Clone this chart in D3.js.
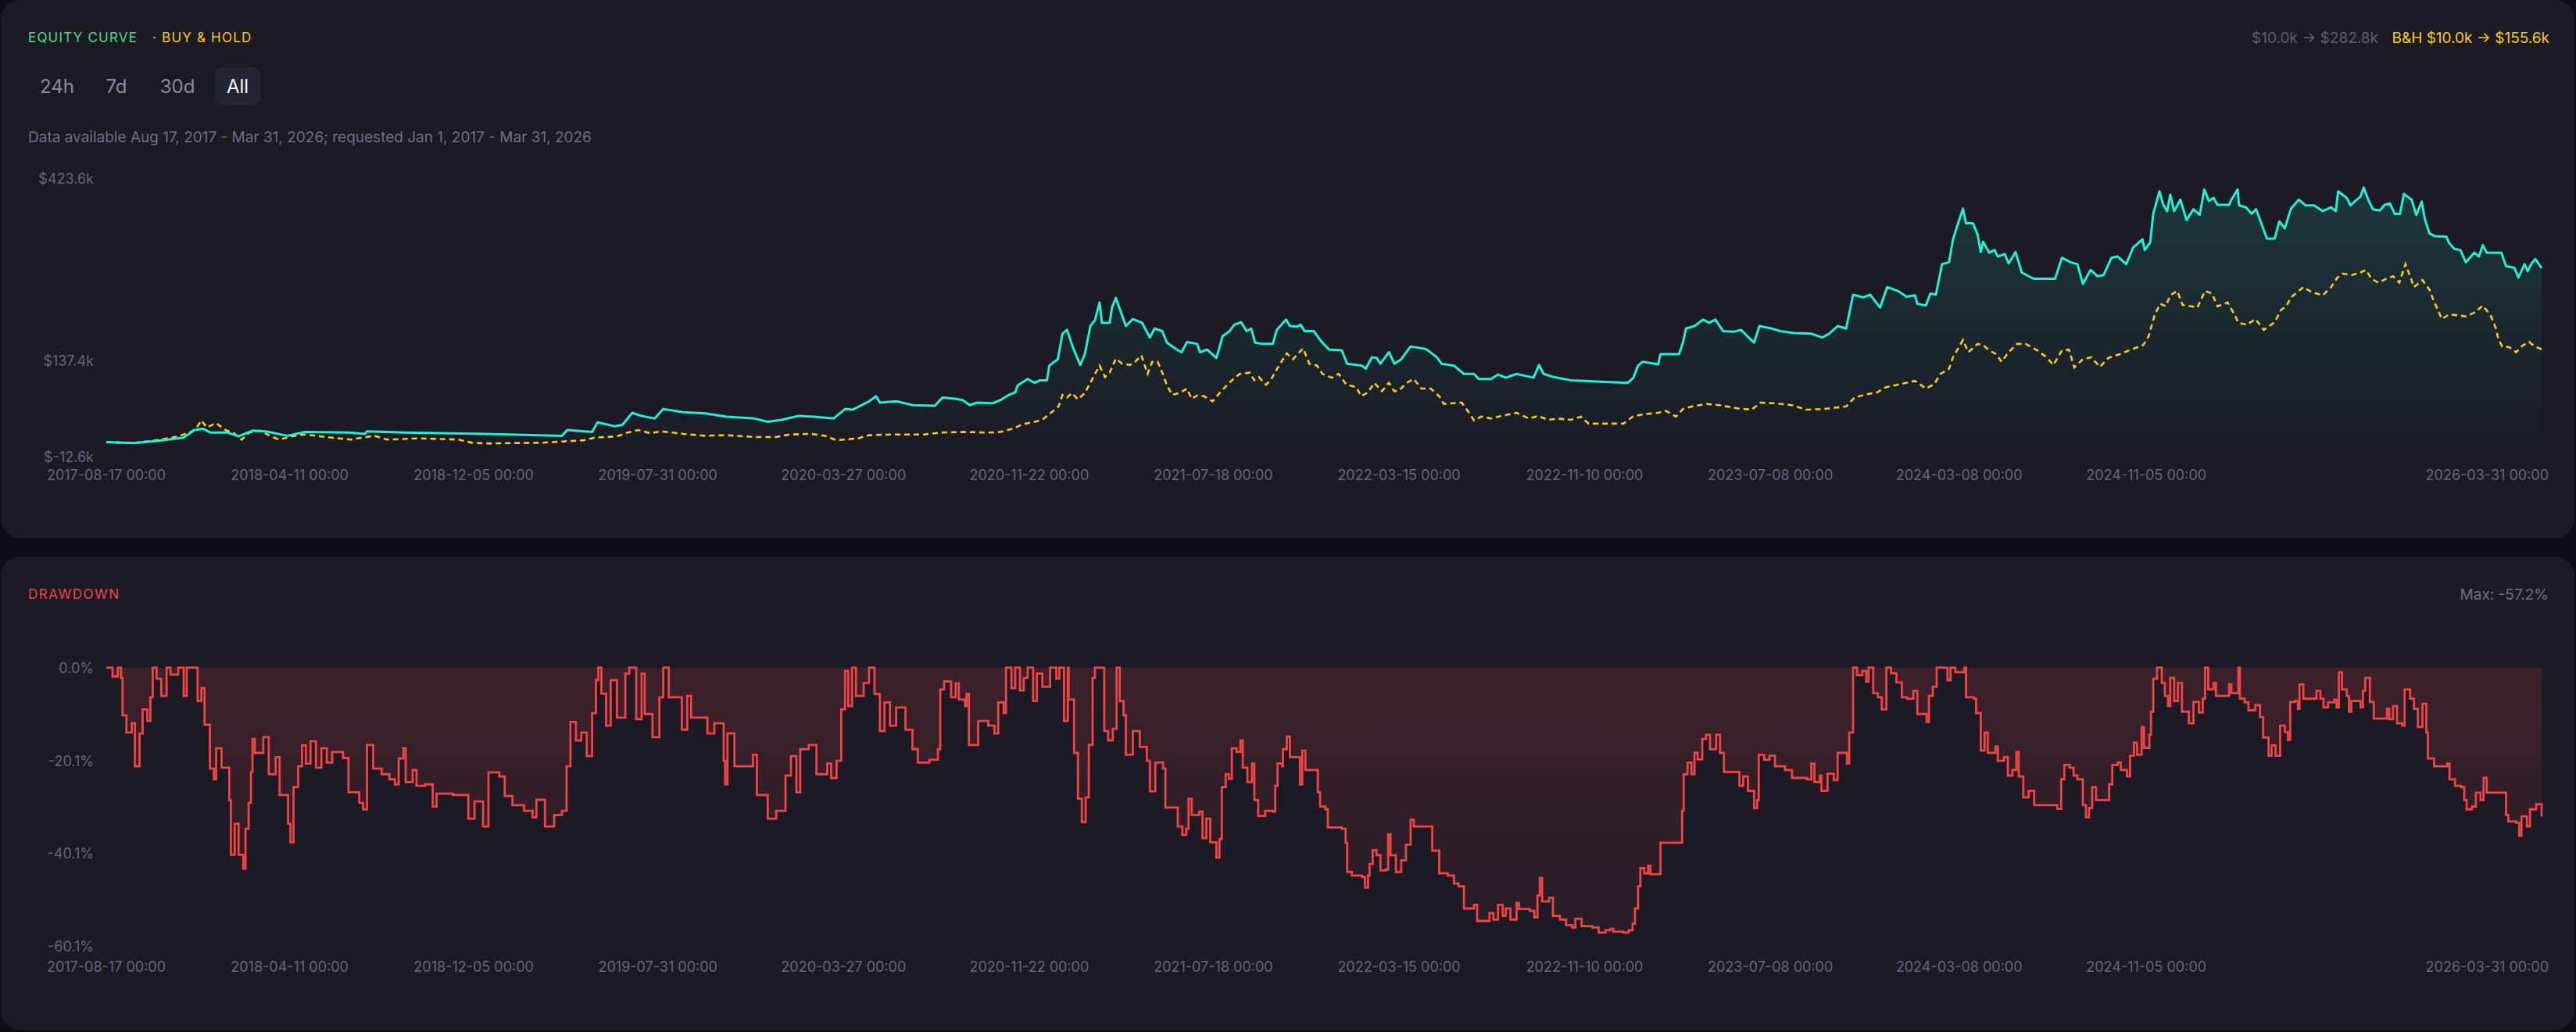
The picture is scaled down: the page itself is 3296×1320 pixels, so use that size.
<!DOCTYPE html>
<html>
<head>
<meta charset="utf-8">
<script src="https://cdn.jsdelivr.net/npm/d3@7"></script>
<style>
  html, body { margin: 0; padding: 0; background: #0f0e18; }
  #chart svg { display: block; }
  text { font-family: Inter, "Noto Sans", sans-serif; }
</style>
</head>
<body>
<div id="chart"></div>
<script>
// ---- data (day offset from START, value) ----
const START = "2017-08-17";
const END = "2026-03-31";

// strategy equity, $k
const eqPoints = [
  [0,10],[36,8.5],[65,12],[100,17],[114,29],[125,31],[135,25],[157,25],[171,19],[189,28],
  [206,27],[234,20],[257,26],[313,25],[334,23],[337,27],[384,25],[490,23],[589,20],[596,29],
  [628,26],[635,41],[657,35],[667,37],[680,56],[692,51],[709,47],[720,62],[746,57],[774,55],
  [802,50],[838,47],[855,42],[873,45],[894,51],[915,50],[940,47],[955,62],[965,61],[986,74],
  [995,82],[1000,72],[1021,74],[1043,68],[1071,67],[1081,80],[1097,78],[1107,76],[1116,68],[1126,72],
  [1146,71],[1156,76],[1165,83],[1175,88],[1178,99],[1191,109],[1200,103],[1207,107],[1216,107],[1219,130],
  [1230,140],[1236,180],[1242,186],[1249,160],[1259,131],[1265,148],[1272,192],[1278,201],[1284,229],[1287,197],
  [1297,197],[1300,221],[1305,236],[1310,219],[1318,192],[1327,203],[1339,197],[1349,174],[1355,188],[1365,184],
  [1371,166],[1384,155],[1390,151],[1397,167],[1410,164],[1414,151],[1423,155],[1435,142],[1443,176],[1452,184],
  [1458,194],[1467,198],[1474,184],[1480,188],[1485,166],[1494,164],[1508,164],[1513,186],[1525,202],[1530,192],
  [1539,191],[1544,194],[1549,184],[1561,184],[1571,167],[1581,155],[1597,154],[1604,133],[1623,130],[1628,125],
  [1636,143],[1642,142],[1647,133],[1658,151],[1665,133],[1674,140],[1686,160],[1706,156],[1720,143],[1726,133],
  [1742,130],[1755,117],[1768,117],[1774,109],[1790,109],[1799,116],[1809,111],[1823,117],[1845,111],[1852,131],
  [1858,117],[1871,112],[1893,107],[1926,105],[1967,103],[1974,111],[1980,130],[1986,136],[2006,132],[2009,148],
  [2033,148],[2038,166],[2042,188],[2053,192],[2064,202],[2072,197],[2080,202],[2090,184],[2104,183],[2113,186],
  [2130,166],[2137,192],[2153,188],[2164,184],[2182,181],[2204,180],[2218,174],[2227,180],[2238,192],[2249,188],
  [2258,241],[2271,237],[2280,241],[2293,221],[2302,253],[2316,247],[2327,238],[2338,240],[2341,227],[2352,224],
  [2358,243],[2365,241],[2373,289],[2382,292],[2387,327],[2393,350],[2400,376],[2404,353],[2413,353],[2419,335],
  [2423,308],[2426,324],[2434,307],[2441,311],[2445,301],[2454,305],[2459,290],[2468,308],[2476,276],[2485,270],
  [2492,266],[2519,266],[2528,299],[2539,292],[2548,289],[2555,258],[2565,280],[2574,270],[2582,272],[2592,299],
  [2600,301],[2611,289],[2620,315],[2632,328],[2635,311],[2642,323],[2646,368],[2654,403],[2659,382],[2664,372],
  [2668,398],[2673,372],[2681,390],[2689,358],[2698,375],[2706,366],[2712,406],[2718,388],[2724,393],[2729,382],
  [2744,382],[2747,390],[2755,406],[2757,381],[2766,378],[2773,368],[2779,375],[2786,352],[2793,329],[2803,329],
  [2809,356],[2816,345],[2824,376],[2834,390],[2843,381],[2854,381],[2865,372],[2876,378],[2882,372],[2885,403],
  [2896,393],[2901,381],[2907,388],[2914,395],[2918,409],[2925,387],[2930,375],[2939,373],[2945,382],[2952,384],
  [2958,368],[2965,368],[2970,399],[2980,390],[2986,366],[2993,387],[2997,360],[3003,337],[3010,333],[3025,332],
  [3028,323],[3035,313],[3043,311],[3050,292],[3061,307],[3067,301],[3072,319],[3077,307],[3096,307],[3102,286],
  [3113,283],[3118,268],[3126,289],[3130,278],[3135,290],[3140,297],[3148,282.8]
];

// buy & hold equity, $k
const bhPoints = [
  [0,10],[36,8.7],[65,13],[93,19],[111,27],[118,35],[123,44],[130,33],[142,40],[154,29],
  [164,25],[175,14],[185,25],[199,28],[213,19],[224,14],[238,19],[257,22],[285,18],[316,14],
  [330,17],[347,20],[363,14],[405,16],[455,14],[473,9],[490,8],[561,9],[589,11],[617,13],
  [631,17],[660,19],[674,25],[688,29],[703,24],[717,27],[746,23],[774,20],[802,21],[838,18],
  [866,18],[883,22],[911,23],[929,20],[944,13],[972,16],[986,21],[1014,22],[1057,22],[1078,25],
  [1107,26],[1140,25],[1156,26],[1172,31],[1184,38],[1197,41],[1210,45],[1219,54],[1231,66],[1236,84],
  [1242,80],[1248,87],[1256,77],[1265,87],[1272,103],[1278,117],[1284,130],[1291,112],[1297,119],[1305,141],
  [1313,133],[1323,131],[1330,136],[1338,146],[1346,117],[1352,136],[1359,136],[1365,119],[1371,99],[1378,84],
  [1387,87],[1397,94],[1403,78],[1410,83],[1419,82],[1430,74],[1437,84],[1446,96],[1455,107],[1465,117],
  [1478,119],[1484,107],[1490,112],[1499,100],[1505,107],[1513,124],[1519,136],[1526,149],[1534,140],[1540,148],
  [1547,157],[1555,133],[1565,130],[1572,117],[1584,111],[1593,117],[1603,100],[1616,96],[1622,82],[1631,88],
  [1639,103],[1649,90],[1658,103],[1665,90],[1671,91],[1681,103],[1690,109],[1700,94],[1712,94],[1723,82],
  [1729,70],[1752,72],[1761,57],[1768,44],[1777,50],[1790,47],[1803,51],[1823,56],[1839,47],[1851,51],
  [1864,45],[1877,47],[1893,45],[1906,50],[1916,39],[1939,39],[1961,39],[1974,51],[1990,54],[2006,56],
  [2016,59],[2029,50],[2038,62],[2050,66],[2068,70],[2086,68],[2108,63],[2127,61],[2138,72],[2157,71],
  [2179,68],[2197,61],[2220,62],[2249,66],[2260,80],[2275,85],[2289,88],[2300,96],[2319,101],[2338,106],
  [2352,94],[2363,101],[2371,117],[2382,125],[2387,143],[2393,155],[2400,170],[2407,151],[2419,164],[2426,162],
  [2434,154],[2443,148],[2450,136],[2459,151],[2470,164],[2481,164],[2496,154],[2508,143],[2517,131],[2528,154],
  [2537,155],[2544,127],[2555,140],[2566,143],[2577,128],[2588,142],[2603,148],[2617,155],[2633,162],[2640,176],
  [2648,210],[2655,227],[2662,223],[2668,240],[2677,247],[2684,225],[2695,223],[2703,221],[2713,247],[2722,243],
  [2729,223],[2742,229],[2751,210],[2756,197],[2767,194],[2778,203],[2789,186],[2803,198],[2811,217],[2818,223],
  [2824,237],[2832,245],[2840,253],[2851,245],[2865,240],[2876,253],[2884,268],[2891,274],[2903,272],[2914,276],
  [2921,280],[2928,266],[2937,260],[2947,266],[2956,270],[2964,260],[2972,289],[2978,270],[2983,253],[2994,264],
  [3003,249],[3008,233],[3014,217],[3019,203],[3028,210],[3039,209],[3050,207],[3061,213],[3072,224],[3082,209],
  [3089,188],[3092,172],[3097,160],[3106,159],[3115,151],[3124,162],[3132,167],[3139,160],[3148,155.6]
];

// drawdown, %
const ddPoints = [
  [0,0],[8,-1.9],[15,0],[19,-2.2],[21,-10.3],[26,-14],[33,-12],[37,-21.3],[43,-14.2],[47,-9],
  [53,-11.5],[57,-6.4],[60,0],[65,-2.4],[71,-6.1],[78,0],[83,-1.5],[93,0],[100,-6.1],[104,0],
  [118,-7.2],[123,-4.4],[127,-12.3],[134,-21.8],[139,-24.1],[142,-17.4],[149,-21.6],[159,-28.6],[161,-40.4],[166,-33.7],
  [171,-40.4],[177,-43.4],[180,-34.8],[184,-29.2],[187,-22.5],[189,-15.4],[192,-18.4],[203,-15],[210,-23],[219,-19.3],
  [224,-27.5],[235,-33.7],[238,-37.7],[242,-25.8],[248,-21.3],[253,-16.8],[258,-20.7],[264,-15.9],[271,-21.6],[278,-17.4],
  [285,-20.5],[292,-18.2],[306,-19.5],[313,-26.9],[327,-29.2],[332,-30.6],[337,-16.7],[345,-21.8],[356,-23],[366,-24.1],
  [373,-25.2],[378,-19.6],[384,-17.4],[387,-24.7],[396,-22.1],[401,-25.5],[412,-25.2],[422,-30],[427,-27.2],[448,-27.5],
  [468,-32.6],[476,-28.9],[487,-34.3],[494,-22.6],[508,-23.5],[515,-27.7],[525,-29.7],[540,-30.9],[551,-32.3],[556,-28.5],
  [567,-34.3],[579,-31.8],[589,-30.9],[595,-21.3],[600,-11.7],[607,-15.7],[614,-14],[621,-19.1],[628,-9.8],[633,-2.7],
  [636,0],[640,-5.6],[646,-12.5],[652,-2.7],[660,-10.8],[671,-1.3],[676,0],[685,-11.1],[692,-1.3],[696,-10],
  [706,-15],[715,-6.4],[720,0],[727,-6.4],[744,-13.4],[751,-6.1],[756,-10.8],[777,-14.2],[786,-12],[798,-20.1],
  [800,-25.2],[803,-14.2],[812,-21.3],[836,-18.8],[841,-27.5],[855,-32.6],[866,-30.9],[878,-23.3],[885,-19.1],[892,-26.9],
  [897,-17.6],[908,-16.7],[918,-23],[932,-20.7],[937,-23.8],[944,-20.1],[950,-9],[955,-0.7],[959,-8.3],[964,0],
  [969,-6.1],[979,-3.3],[986,0],[993,-5.7],[1000,-13.7],[1006,-7.5],[1013,-12.5],[1021,-8.6],[1033,-13.4],[1042,-17.6],
  [1049,-20.5],[1064,-19.9],[1075,-17.6],[1078,-4.7],[1083,-3],[1092,-6.4],[1098,-3.4],[1102,-6.9],[1110,-8.3],[1112,-5.7],
  [1115,-16.7],[1127,-11.5],[1140,-12.5],[1148,-14.2],[1153,-7.5],[1160,-9.8],[1163,0],[1170,-4.4],[1175,0],[1181,-4.9],
  [1186,-2.2],[1191,0],[1198,-7.2],[1203,-1.3],[1210,-4.1],[1220,0],[1228,-2.4],[1232,0],[1238,-11.5],[1243,0],
  [1244,-6.9],[1251,-18.4],[1256,-28.3],[1261,-33.3],[1266,-28],[1270,-16.7],[1275,-2.2],[1278,0],[1290,-13.7],[1295,-15.7],
  [1301,-13.2],[1306,0],[1310,-7.2],[1315,-10.3],[1318,-18.8],[1327,-13.7],[1336,-17.1],[1345,-20.1],[1349,-26.7],[1356,-20.5],
  [1366,-21.8],[1369,-30.2],[1385,-34.3],[1391,-36.1],[1396,-34.8],[1399,-28.3],[1403,-31.8],[1413,-31.1],[1417,-36.8],[1422,-32.6],
  [1427,-37.7],[1435,-41],[1439,-37],[1442,-25.8],[1447,-23],[1451,-24],[1455,-17.4],[1461,-18.2],[1466,-15.7],[1469,-21.6],
  [1475,-24.7],[1481,-20.7],[1484,-28.6],[1489,-32],[1498,-30.9],[1508,-31.1],[1511,-25.5],[1514,-20.7],[1520,-21.3],[1521,-17.6],
  [1526,-14.9],[1530,-19.3],[1543,-25.2],[1546,-17.9],[1550,-22.1],[1566,-26.9],[1569,-30],[1576,-30.6],[1579,-34.5],[1597,-34.8],
  [1602,-37.8],[1604,-44.1],[1610,-44.9],[1623,-45.2],[1627,-47.5],[1631,-44.9],[1633,-42.4],[1637,-39.4],[1642,-40.5],[1647,-43.8],
  [1654,-43.6],[1657,-36],[1660,-40.5],[1667,-44.1],[1674,-41.6],[1680,-38.2],[1686,-32.8],[1690,-34.3],[1714,-39.5],[1723,-44.4],
  [1734,-44.9],[1742,-46.6],[1748,-47.2],[1755,-52],[1768,-51.2],[1772,-54.7],[1788,-53],[1793,-54.4],[1799,-51.2],[1805,-53.6],
  [1809,-52],[1815,-54.4],[1823,-50.8],[1826,-52.1],[1840,-52.5],[1846,-53.9],[1850,-49.2],[1853,-45.4],[1856,-50.5],[1865,-49.7],
  [1870,-53.6],[1879,-54.4],[1887,-55.6],[1895,-56.1],[1899,-54.2],[1907,-55.8],[1921,-56.1],[1929,-57.2],[1938,-56.7],[1944,-56.4],
  [1948,-57],[1961,-57.2],[1968,-56.7],[1973,-55.3],[1976,-52],[1980,-47.2],[1983,-43.3],[1988,-44.4],[1993,-42.8],[1996,-44.6],
  [2009,-37.8],[2037,-30.9],[2039,-23],[2044,-20.5],[2049,-23],[2053,-18.4],[2057,-19.8],[2063,-15.4],[2068,-14.5],[2073,-17.6],
  [2081,-14.5],[2086,-18.4],[2091,-22.5],[2111,-25.5],[2116,-23.5],[2122,-26.6],[2130,-30.3],[2134,-28.6],[2136,-18.8],[2143,-19.9],
  [2150,-19],[2157,-21.3],[2170,-22.1],[2179,-23.8],[2198,-24.1],[2204,-20.7],[2208,-24.7],[2215,-23.3],[2217,-26.6],[2225,-22.9],
  [2233,-24.3],[2238,-18.4],[2250,-20.7],[2253,-14],[2258,0],[2263,-1.6],[2270,-0.7],[2275,-3],[2278,0],[2284,-5.5],
  [2290,-6.4],[2295,-9],[2301,0],[2307,-1.2],[2314,-3.2],[2321,-6.4],[2328,-6.7],[2336,-5],[2341,-10],[2353,-11.7],
  [2356,-6.1],[2361,-4.1],[2366,0],[2380,-2.7],[2384,0],[2390,-1],[2402,0],[2404,-6.4],[2414,-6.7],[2417,-9.8],
  [2423,-17.9],[2428,-14],[2432,-18.4],[2442,-17],[2445,-20.1],[2453,-19.3],[2458,-23.3],[2464,-22.1],[2469,-18.2],[2472,-23.5],
  [2478,-28],[2485,-26.6],[2492,-29.7],[2522,-30.5],[2527,-24.1],[2531,-21],[2538,-21.6],[2543,-23.3],[2548,-24.1],[2555,-29.7],
  [2559,-32.3],[2563,-30.3],[2567,-25.8],[2572,-28.6],[2589,-25.2],[2593,-21],[2600,-20.5],[2604,-22.1],[2612,-23.5],[2616,-19],
  [2621,-16.2],[2625,-18.8],[2631,-12.8],[2634,-17.3],[2641,-14.5],[2643,-9.5],[2646,-2.4],[2651,0],[2657,-3.3],[2661,-6.1],
  [2665,-8.3],[2668,-2.2],[2673,-7.2],[2678,-3.3],[2683,-9.5],[2692,-12],[2698,-7.4],[2705,-9.7],[2710,-6.7],[2713,0],
  [2717,-4.7],[2724,-3.3],[2727,-6.1],[2744,-3.6],[2747,-5.5],[2756,0],[2758,-6.7],[2764,-7.5],[2769,-9.2],[2778,-8.1],
  [2784,-10.7],[2788,-15.1],[2795,-19],[2799,-16.8],[2804,-19],[2810,-12.5],[2816,-13.9],[2820,-15.6],[2823,-7.4],[2829,-7.2],
  [2833,-8.9],[2835,-3.6],[2840,-6.7],[2857,-5],[2862,-6.7],[2866,-8.6],[2872,-7.5],[2880,-6.9],[2883,-8.6],[2886,-1],
  [2890,-4.7],[2896,-6.1],[2899,-9.5],[2902,-7.2],[2914,-8.6],[2917,-5],[2920,-2.2],[2926,-7.4],[2931,-11],[2948,-8.9],
  [2951,-11.1],[2956,-8.3],[2961,-12],[2968,-12.5],[2971,-4.7],[2978,-6.7],[2983,-8.9],[2988,-12.8],[2994,-7.8],[2999,-14],
  [3001,-19.6],[3009,-21.3],[3026,-20.7],[3029,-24.1],[3036,-25.5],[3044,-25.8],[3048,-28.6],[3051,-30.6],[3058,-30],[3063,-27],
  [3069,-28.6],[3073,-23.8],[3077,-27],[3102,-31.8],[3105,-33.2],[3115,-33.5],[3119,-36.3],[3122,-32.1],[3129,-34.3],[3133,-30.6],
  [3141,-29.5],[3148,-32.1]
];

const xTickLabels = [
  "2017-08-17 00:00","2018-04-11 00:00","2018-12-05 00:00","2019-07-31 00:00","2020-03-27 00:00",
  "2020-11-22 00:00","2021-07-18 00:00","2022-03-15 00:00","2022-11-10 00:00","2023-07-08 00:00",
  "2024-03-08 00:00","2024-11-05 00:00","2026-03-31 00:00"
];
const eqTicks = [-12.6, 137.4, 423.6];   // $k
const eqDomain = [-12.6, 423.6];
const ddTicks = [0, -20.1, -40.1, -60.1]; // %
const ddDomain = [-60.1, 0];
const rangeButtons = ["24h", "7d", "30d", "All"];
const activeRange = "All";
const subtitle = "Data available Aug 17, 2017 - Mar 31, 2026; requested Jan 1, 2017 - Mar 31, 2026";
const stratSummary = "$10.0k \u2192 $282.8k";
const bhSummary = "B&H $10.0k \u2192 $155.6k";
const maxDrawdown = "Max: -57.2%";

document.addEventListener('DOMContentLoaded', () => {
    const width = 3296;
    const height = 1320;

    const colors = {
        card: "#1b1a25",
        teal: "#22f0d2",
        gold: "#facc15",
        red: "#ef4444",
        green: "#4ade80",
        axis: "#676779",
        muted: "#6f6f86"
    };

    const svg = d3.select("#chart")
        .append("svg")
        .attr("width", width)
        .attr("height", height)
        .attr("viewBox", `0 0 ${width} ${height}`);

    const defs = svg.append("defs");

    // cards
    svg.append("rect").attr("x", 1).attr("y", 0).attr("width", 3293).attr("height", 688)
        .attr("rx", 24).attr("fill", colors.card);
    svg.append("rect").attr("x", 1).attr("y", 712).attr("width", 3293).attr("height", 605)
        .attr("rx", 24).attr("fill", colors.card);

    const parseDay = d3.timeParse("%Y-%m-%d");
    const parseTick = d3.timeParse("%Y-%m-%d %H:%M");
    const start = parseDay(START);
    const toDate = d => d3.timeDay.offset(start, d);

    const x = d3.scaleTime()
        .domain([start, parseDay(END)])
        .range([136, 3252]);

    // ---------- header ----------
    const header = svg.append("g");
    header.append("text")
        .attr("x", 36).attr("y", 48)
        .attr("dominant-baseline", "central")
        .style("font-size", "17px").style("letter-spacing", "1.2px")
        .attr("fill", colors.green)
        .text("EQUITY CURVE");
    header.append("text")
        .attr("x", 195).attr("y", 48)
        .attr("dominant-baseline", "central")
        .style("font-size", "17px").style("letter-spacing", "1.2px")
        .attr("fill", colors.gold)
        .text("\u00b7 BUY & HOLD");

    header.append("text")
        .attr("x", 3262).attr("y", 48)
        .attr("text-anchor", "end").attr("dominant-baseline", "central")
        .style("font-size", "19px")
        .attr("fill", colors.gold)
        .text(bhSummary);
    header.append("text")
        .attr("x", 3043).attr("y", 48)
        .attr("text-anchor", "end").attr("dominant-baseline", "central")
        .style("font-size", "19px")
        .attr("fill", "#5f5f74")
        .text(stratSummary);

    // range buttons
    const btnX = [73, 149, 227, 304];
    const btns = header.selectAll("g.btn")
        .data(rangeButtons)
        .enter()
        .append("g")
        .attr("transform", (d, i) => `translate(${btnX[i]},110)`);
    btns.filter(d => d === activeRange)
        .append("rect")
        .attr("x", -29.5).attr("y", -24).attr("width", 59).attr("height", 48)
        .attr("rx", 10).attr("fill", "#252432");
    btns.append("text")
        .attr("text-anchor", "middle").attr("dominant-baseline", "central")
        .style("font-size", "24px")
        .attr("fill", d => d === activeRange ? "#f3f4f6" : "#8a8aa0")
        .text(d => d);

    header.append("text")
        .attr("x", 36).attr("y", 175)
        .attr("dominant-baseline", "central")
        .style("font-size", "19px")
        .attr("fill", colors.muted)
        .text(subtitle);

    // ---------- x labels helper ----------
    function drawXLabels(g, yPos) {
        g.selectAll("text.xl")
            .data(xTickLabels)
            .enter()
            .append("text")
            .attr("class", "xl")
            .attr("y", yPos)
            .attr("dominant-baseline", "central")
            .style("font-size", "18px")
            .attr("fill", colors.axis)
            .attr("text-anchor", (d, i) => i === xTickLabels.length - 1 ? "end" : "middle")
            .attr("x", (d, i) => i === xTickLabels.length - 1 ? x(parseTick(d)) + 9 : x(parseTick(d)))
            .text(d => d);
    }

    // ---------- equity chart ----------
    const yEq = d3.scaleLinear().domain(eqDomain).range([584, 228]);
    const eq = svg.append("g");

    const eqGrad = defs.append("linearGradient")
        .attr("id", "eqFill").attr("gradientUnits", "userSpaceOnUse")
        .attr("x1", 0).attr("x2", 0).attr("y1", 228).attr("y2", 584);
    eqGrad.append("stop").attr("offset", "0%").attr("stop-color", colors.teal).attr("stop-opacity", 0.14);
    eqGrad.append("stop").attr("offset", "100%").attr("stop-color", colors.teal).attr("stop-opacity", 0);

    eq.append("path")
        .datum(eqPoints)
        .attr("fill", "url(#eqFill)")
        .attr("d", d3.area()
            .x(d => x(toDate(d[0])))
            .y0(yEq(eqDomain[0]))
            .y1(d => yEq(d[1])));

    eq.append("path")
        .datum(bhPoints)
        .attr("fill", "none")
        .attr("stroke", colors.gold)
        .attr("stroke-width", 2.6)
        .attr("stroke-dasharray", "7,5")
        .attr("d", d3.line().x(d => x(toDate(d[0]))).y(d => yEq(d[1])));

    eq.append("path")
        .datum(eqPoints)
        .attr("fill", "none")
        .attr("stroke", colors.teal)
        .attr("stroke-width", 3)
        .attr("stroke-linejoin", "round")
        .attr("d", d3.line().x(d => x(toDate(d[0]))).y(d => yEq(d[1])));

    eq.selectAll("text.yl")
        .data(eqTicks)
        .enter()
        .append("text")
        .attr("x", 120).attr("y", d => yEq(d))
        .attr("text-anchor", "end").attr("dominant-baseline", "central")
        .style("font-size", "18px")
        .attr("fill", colors.axis)
        .text(d => "$" + d.toFixed(1) + "k");

    drawXLabels(eq, 607);

    // ---------- drawdown chart ----------
    const yDd = d3.scaleLinear().domain(ddDomain).range([1210, 854]);
    const dd = svg.append("g");

    dd.append("text")
        .attr("x", 36).attr("y", 760)
        .attr("dominant-baseline", "central")
        .style("font-size", "17px").style("letter-spacing", "1.5px")
        .attr("fill", colors.red)
        .text("DRAWDOWN");
    dd.append("text")
        .attr("x", 3261).attr("y", 760)
        .attr("text-anchor", "end").attr("dominant-baseline", "central")
        .style("font-size", "19px")
        .attr("fill", colors.muted)
        .text(maxDrawdown);

    const ddGrad = defs.append("linearGradient")
        .attr("id", "ddFill").attr("gradientUnits", "userSpaceOnUse")
        .attr("x1", 0).attr("x2", 0).attr("y1", 854).attr("y2", 1210);
    ddGrad.append("stop").attr("offset", "0%").attr("stop-color", colors.red).attr("stop-opacity", 0.16);
    ddGrad.append("stop").attr("offset", "100%").attr("stop-color", colors.red).attr("stop-opacity", 0.05);

    dd.append("path")
        .datum(ddPoints)
        .attr("fill", "url(#ddFill)")
        .attr("d", d3.area()
            .curve(d3.curveStepAfter)
            .x(d => x(toDate(d[0])))
            .y0(yDd(0))
            .y1(d => yDd(d[1])));

    dd.append("path")
        .datum(ddPoints)
        .attr("fill", "none")
        .attr("stroke", colors.red)
        .attr("stroke-width", 2.8)
        .attr("d", d3.line()
            .curve(d3.curveStepAfter)
            .x(d => x(toDate(d[0])))
            .y(d => yDd(d[1])));

    dd.selectAll("text.yl")
        .data(ddTicks)
        .enter()
        .append("text")
        .attr("x", 120).attr("y", d => yDd(d))
        .attr("text-anchor", "end").attr("dominant-baseline", "central")
        .style("font-size", "18px")
        .attr("fill", colors.axis)
        .text(d => d.toFixed(1) + "%");

    drawXLabels(dd, 1236);
});
</script>
</body>
</html>
